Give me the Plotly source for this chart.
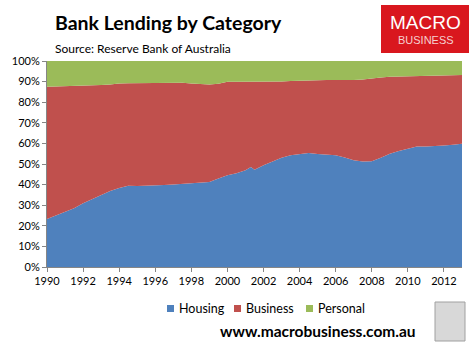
import plotly.graph_objects as go

years = [1990.0, 1990.5, 1991.0, 1991.5, 1992.0, 1992.5, 1993.0, 1993.5, 1994.0, 1994.5,
         1995.0, 1995.5, 1996.0, 1996.5, 1997.0, 1997.5, 1998.0, 1998.5, 1999.0, 1999.5,
         2000.0, 2000.5, 2001.0, 2001.3, 2001.5, 2002.0, 2002.5, 2003.0, 2003.5, 2004.0,
         2004.5, 2005.0, 2005.5, 2006.0, 2006.5, 2007.0, 2007.5, 2008.0, 2008.5, 2009.0,
         2009.5, 2010.0, 2010.5, 2011.0, 2011.5, 2012.0, 2012.5, 2013.0]

housing = [23.3, 25.0, 26.8, 28.5, 30.9, 32.8, 34.9, 36.9, 38.4, 39.4,
           39.3, 39.4, 39.4, 39.8, 40.0, 40.3, 40.5, 40.8, 41.3, 43.0,
           44.5, 45.5, 47.0, 48.5, 47.2, 49.4, 51.2, 53.0, 54.2, 54.8,
           55.3, 54.8, 54.5, 54.2, 53.2, 51.8, 51.2, 51.3, 53.0, 55.0,
           56.3, 57.4, 58.5, 58.5, 58.6, 59.0, 59.4, 59.8]

business = [64.2, 62.6, 60.9, 59.3, 57.0, 55.2, 53.4, 51.7, 50.7, 49.8,
            49.9, 50.1, 49.8, 49.5, 49.5, 49.1, 48.6, 48.0, 47.3, 46.0,
            45.4, 44.4, 42.9, 41.4, 42.6, 40.5, 38.7, 37.0, 36.1, 35.7,
            35.3, 36.0, 36.3, 36.6, 37.5, 39.0, 39.8, 40.3, 39.0, 37.4,
            36.2, 35.4, 34.4, 34.6, 34.6, 34.2, 33.8, 33.4]

personal = [12.5, 12.4, 12.3, 12.2, 12.1, 12.0, 11.7, 11.4, 10.9, 10.8,
            10.8, 10.5, 10.8, 10.7, 10.5, 10.6, 10.9, 11.2, 11.4, 11.0,
            10.1, 10.1, 10.1, 10.1, 10.2, 10.1, 10.1, 10.0, 9.7, 9.5,
            9.4, 9.2, 9.2, 9.2, 9.3, 9.2, 9.0, 8.4, 8.0, 7.6,
            7.5, 7.2, 7.1, 6.9, 6.8, 6.8, 6.8, 6.8]

series_names = ["Housing", "Business", "Personal"]
series_colors = ["#4F81BD", "#C0504D", "#9BBB59"]
tick_years = list(range(1990, 2013, 2))
tick_labels = [str(y) for y in tick_years]
y_ticks = list(range(0, 101, 10))
y_labels = [f"{v}%" for v in y_ticks]

title_text = "Bank Lending by Category"
subtitle_text = "Source: Reserve Bank of Australia"
footer_text = "www.macrobusiness.com.au"

FONT = "Lato"
L, R, T, B = 47, 462, 61, 267
PW, PH = R - L, B - T


def px(x):
    return (x - L) / PW


def py(y):
    return (B - y) / PH


fig = go.Figure()
for name, vals, col in zip(series_names, [housing, business, personal], series_colors):
    fig.add_trace(go.Scatter(
        x=years, y=vals, name=name, mode="lines", stackgroup="one",
        line=dict(width=0, color=col), fillcolor=col, showlegend=False,
    ))

fig.update_layout(
    width=472, height=344,
    margin=dict(l=L, r=472 - R, t=T, b=344 - B),
    paper_bgcolor="white", plot_bgcolor="white",
    font=dict(family=FONT, size=11, color="#000000"),
    showlegend=False,
    xaxis=dict(range=[1990, 2013], tickvals=tick_years, ticktext=tick_labels,
               showgrid=False, zeroline=False, showline=True, linecolor="#868686",
               ticks="outside", ticklen=4, tickcolor="#868686",
               tickfont=dict(family=FONT, size=11)),
    yaxis=dict(range=[0, 100], tickvals=y_ticks, ticktext=y_labels,
               showgrid=False, zeroline=False, showline=True, linecolor="#868686",
               ticks="outside", ticklen=4, tickcolor="#868686",
               tickfont=dict(family=FONT, size=11)),
)

# manual legend (small square keys like the original)
legend_key_x = [167, 234, 306]
legend_y = 308.5
for name, col, kx in zip(series_names, series_colors, legend_key_x):
    fig.add_shape(type="rect", xref="paper", yref="paper",
                  x0=px(kx), x1=px(kx + 7), y0=py(legend_y + 3.5), y1=py(legend_y - 3.5),
                  fillcolor=col, line=dict(width=0))
    fig.add_annotation(text=name, xref="paper", yref="paper",
                       x=px(kx + 10), y=py(legend_y), xanchor="left", yanchor="middle",
                       showarrow=False, font=dict(family=FONT, size=12.5, color="#000000"))

fig.add_annotation(text="<b>" + title_text + "</b>", xref="paper", yref="paper",
                   x=px(53), y=py(22), xanchor="left", yanchor="middle", showarrow=False,
                   font=dict(family=FONT, size=19.5, color="#000000"))
fig.add_annotation(text=subtitle_text, xref="paper", yref="paper",
                   x=px(53), y=py(48), xanchor="left", yanchor="middle", showarrow=False,
                   font=dict(family=FONT, size=12, color="#000000"))

# logo box
fig.add_shape(type="rect", xref="paper", yref="paper",
              x0=px(381), x1=px(469), y0=py(53), y1=py(5),
              fillcolor="#D9171E", line=dict(width=0), layer="above")
fig.add_annotation(text="MACRO", xref="paper", yref="paper",
                   x=px(425), y=py(22), xanchor="center", yanchor="middle", showarrow=False,
                   font=dict(family="Liberation Sans", size=19, color="white"))
fig.add_annotation(text="BUSINESS", xref="paper", yref="paper",
                   x=px(426), y=py(40), xanchor="center", yanchor="middle", showarrow=False,
                   font=dict(family="Liberation Sans", size=11, color="#f5d0d0"))

fig.add_annotation(text="<b>" + footer_text + "</b>", xref="paper", yref="paper",
                   x=px(318), y=py(331), xanchor="center", yanchor="middle", showarrow=False,
                   font=dict(family=FONT, size=15.5, color="#000000"))
# wolf image placeholder
fig.add_shape(type="rect", xref="paper", yref="paper",
              x0=px(435), x1=px(465), y0=py(341), y1=py(302),
              fillcolor="#D8D8D8", line=dict(width=1, color="#A0A0A0"))

fig.write_html("out.html")
